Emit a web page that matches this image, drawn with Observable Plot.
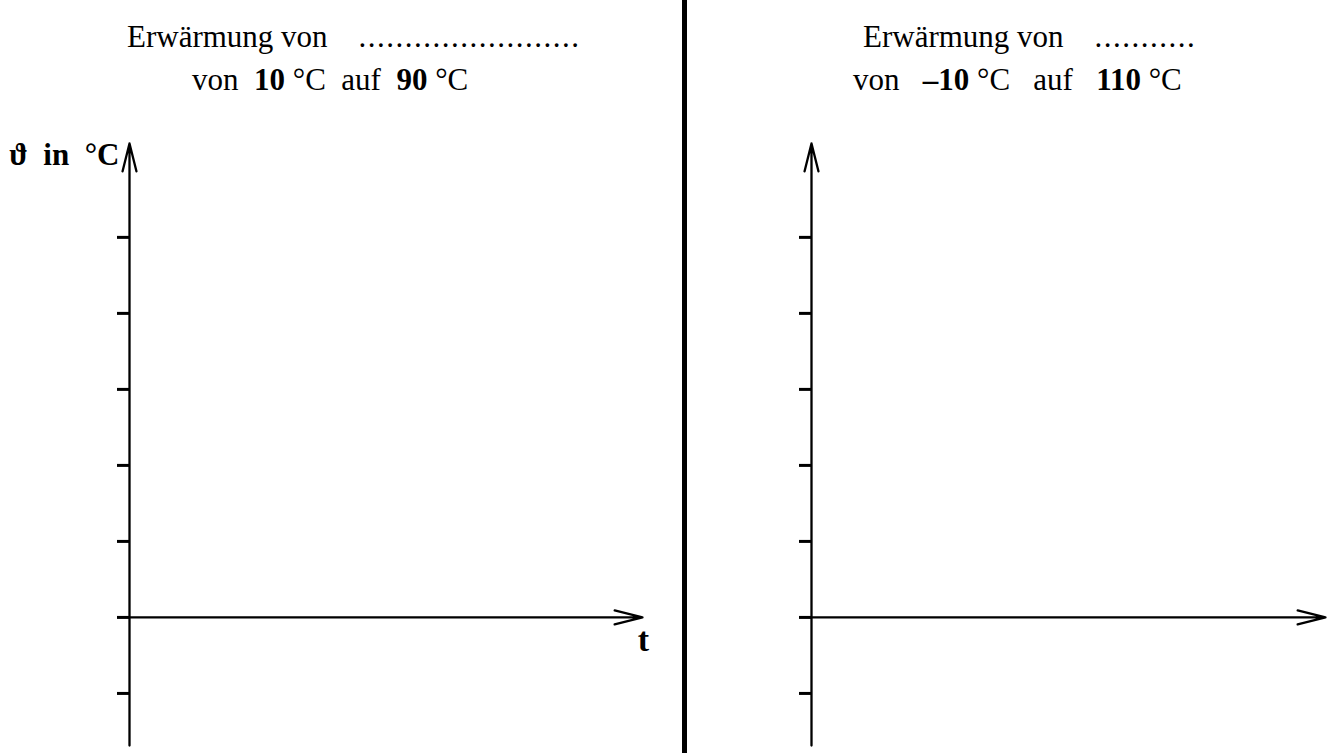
<!DOCTYPE html>
<html>
<head>
<meta charset="utf-8">
<script src="https://cdn.jsdelivr.net/npm/d3@7"></script>
<script src="https://cdn.jsdelivr.net/npm/@observablehq/plot@0.6"></script>
<style>
  html, body { margin: 0; padding: 0; background: #fff; }
  #root { position: relative; width: 1330px; height: 753px; overflow: hidden; font-family: "Liberation Serif", "Times New Roman", serif; color: #000; }
  .title { position: absolute; font-size: 31px; line-height: 31px; white-space: pre; }
  .title b { font-weight: bold; }
  .title .dots { letter-spacing: 1.5px; }
  .panel { position: absolute; top: 110px; }
  #divider { position: absolute; left: 682px; top: 0; width: 5px; height: 753px; background: #000; }
</style>
</head>
<body>
<div id="root"></div>
<script>
// ---- data ----
const panelNames = ["left", "right"];
const titleText = ["Erwärmung von", "Erwärmung von"];
const blankDots = ["........................", "..........."];
const fromTemps = ["10", "–10"];
const toTemps = ["90", "110"];
const tempTicks = [-20, 0, 20, 40, 60, 80, 100];      // unlabeled tick marks (°C)
const tempAxisRange = [-33.7, 124.7];                  // extent of the ϑ axis (°C)
const timeAxisRange = [0, 10];                         // extent of the t axis
const yAxisLabel = "ϑ\u00a0\u00a0in\u00a0\u00a0°C";
const xAxisLabel = "t";

// ---- layout ----
const root = document.getElementById("root");
const layout = [
  {left: 0, width: 684, marginLeft: 129, marginRight: 42, t1: 127, t2: 192, gap: "  ", showLabels: true},
  {left: 689, width: 641, marginLeft: 122, marginRight: 5, t1: 863, t2: 853, gap: "   ", showLabels: false}
];

function addTitle(i) {
  const L = layout[i];
  const l1 = document.createElement("div");
  l1.className = "title";
  l1.style.left = L.t1 + "px";
  l1.style.top = "21px";
  l1.innerHTML = titleText[i] + "    <span class=\"dots\">" + blankDots[i] + "</span>";
  root.appendChild(l1);
  const l2 = document.createElement("div");
  l2.className = "title";
  l2.style.left = L.t2 + "px";
  l2.style.top = "64px";
  const g = L.gap;
  l2.innerHTML = "von" + g + "<b>" + fromTemps[i] + "</b> °C" + g + "auf" + g + "<b>" + toTemps[i] + "</b> °C";
  root.appendChild(l2);
}

function panel(i) {
  const L = layout[i];
  const arrowStyle = {stroke: "black", strokeWidth: 2.3, headLength: 18.7, headAngle: 28};
  const marks = [
    Plot.axisY(tempTicks, {anchor: "left", tickSize: 12, tickFormat: () => "", strokeWidth: 3, label: null}),
    Plot.arrow([{x1: timeAxisRange[0], x2: timeAxisRange[0], y1: tempAxisRange[0], y2: tempAxisRange[1]}],
      {x1: "x1", y1: "y1", x2: "x2", y2: "y2", ...arrowStyle}),
    Plot.arrow([{x1: timeAxisRange[0], x2: timeAxisRange[1], y1: 0, y2: 0}],
      {x1: "x1", y1: "y1", x2: "x2", y2: "y2", ...arrowStyle})
  ];
  if (L.showLabels) {
    marks.push(Plot.text([{x: timeAxisRange[0], y: tempAxisRange[1], s: yAxisLabel}],
      {x: "x", y: "y", text: "s", textAnchor: "end", dx: -10, dy: 12, fontSize: 31, fontWeight: "bold", fill: "black"}));
    marks.push(Plot.text([{x: timeAxisRange[1], y: 0, s: xAxisLabel}],
      {x: "x", y: "y", text: "s", dx: 1, dy: 23, fontSize: 34, fontWeight: "bold", fill: "black"}));
  }
  const svg = Plot.plot({
    width: L.width,
    height: 643,
    marginTop: 33,
    marginBottom: 8,
    marginLeft: L.marginLeft,
    marginRight: L.marginRight,
    x: {domain: timeAxisRange, axis: null},
    y: {domain: tempAxisRange, axis: null},
    style: {background: "transparent", overflow: "visible", fontFamily: "'Liberation Serif', 'DejaVu Serif', serif", color: "black"},
    marks
  });
  const wrap = document.createElement("div");
  wrap.className = "panel";
  wrap.style.left = L.left + "px";
  wrap.appendChild(svg);
  root.appendChild(wrap);
}

panelNames.forEach((_, i) => { addTitle(i); panel(i); });
const div = document.createElement("div");
div.id = "divider";
root.appendChild(div);
</script>
</body>
</html>
